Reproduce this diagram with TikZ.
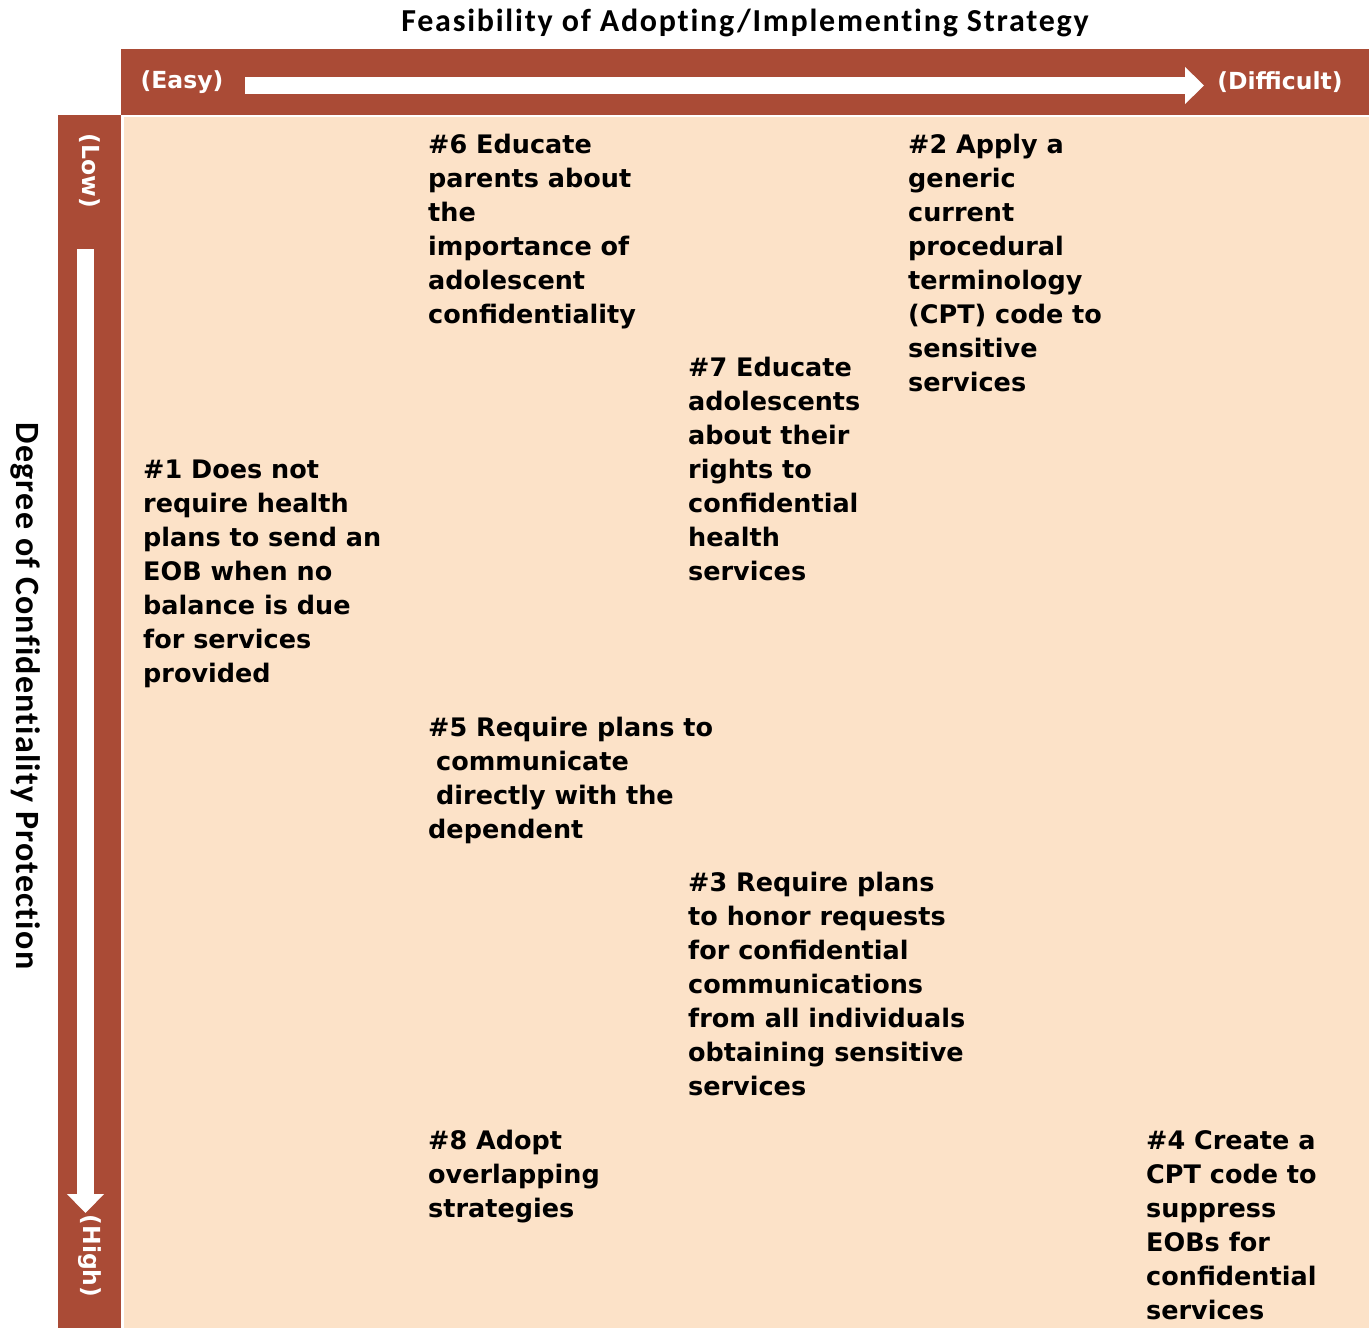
\documentclass[tikz,border=0pt]{standalone}
\usepackage{fontspec}
\setmainfont{DejaVu Sans}
\newfontfamily\headfont{Carlito}[LetterSpace=5.5, RawFeature=-liga]
\newfontfamily\sidefont{Carlito}[LetterSpace=3.5, RawFeature=-liga]
\usetikzlibrary{arrows.meta, positioning}
\definecolor{barred}{RGB}{170,75,54}
\definecolor{peach}{RGB}{252,226,200}

\tikzset{
    item/.style={anchor=north west, align=left, inner sep=0pt,
        font=\fontsize{25.5}{34}\selectfont\bfseries},
    axislabel/.style={text=white, inner sep=0pt,
        font=\fontsize{23.5}{28}\selectfont\bfseries},
    axisarrow/.style={white, line width=17pt,
        -{Triangle[width=36pt,length=19pt]}},
}

\begin{document}
\begin{tikzpicture}[x=1pt,y=-1pt]
    \useasboundingbox (0,0) rectangle (1369,1328);

    % bars and field
    \fill[barred] (121,49) rectangle (1369,115);
    \fill[barred] (58,115) rectangle (121,1328);
    \fill[peach] (124,117) rectangle (1369,1328);

    % axis titles
    \node[font=\headfont\fontsize{32}{36}\selectfont\bfseries] (feas) at (745,23)
        {Feasibility of Adopting/Implementing Strategy};
    \node[font=\sidefont\fontsize{34}{38}\selectfont\bfseries, rotate=-90] (prot) at (26,696)
        {Degree of Confidentiality Protection};

    % axis arrows
    \coordinate (xstart) at (245,85.5);
    \coordinate (xend) at (1204,85.5);
    \coordinate (ystart) at (85.5,249);
    \coordinate (yend) at (85.5,1213);
    \draw[axisarrow] (xstart) -- (xend);
    \draw[axisarrow] (ystart) -- (yend);

    \node[axislabel] (easy) at (182,82) {(Easy)};
    \node[axislabel] (difficult) at (1280,82) {(Difficult)};
    \node[axislabel, rotate=-90] (low) at (90,171) {(Low)};
    \node[axislabel, rotate=-90] (high) at (90,1256) {(High)};

    % strategies
    \node[item] (s6) at (428,134) {\#6 Educate\\parents about\\the\\importance of\\adolescent\\confidentiality};
    \node[item] (s2) at (908,134) {\#2 Apply a\\generic\\current\\procedural\\terminology\\(CPT) code to\\sensitive\\services};
    \node[item] (s7) at (688,357) {\#7 Educate\\adolescents\\about their\\rights to\\confidential\\health\\services};
    \node[item] (s1) at (143,460) {\#1 Does not\\require health\\plans to send an\\EOB when no\\balance is due\\for services\\provided};
    \node[item] (s5) at (428,717) {\#5 Require plans to\\\hspace*{8pt}communicate\\\hspace*{8pt}directly with the\\dependent};
    \node[item] (s3) at (688,872) {\#3 Require plans\\to honor requests\\for confidential\\communications\\from all individuals\\obtaining sensitive\\services};
    \node[item] (s8) at (428,1130) {\#8 Adopt\\overlapping\\strategies};
    \node[item] (s4) at (1146,1130) {\#4 Create a\\CPT code to\\suppress\\EOBs for\\confidential\\services};
\end{tikzpicture}
\end{document}
